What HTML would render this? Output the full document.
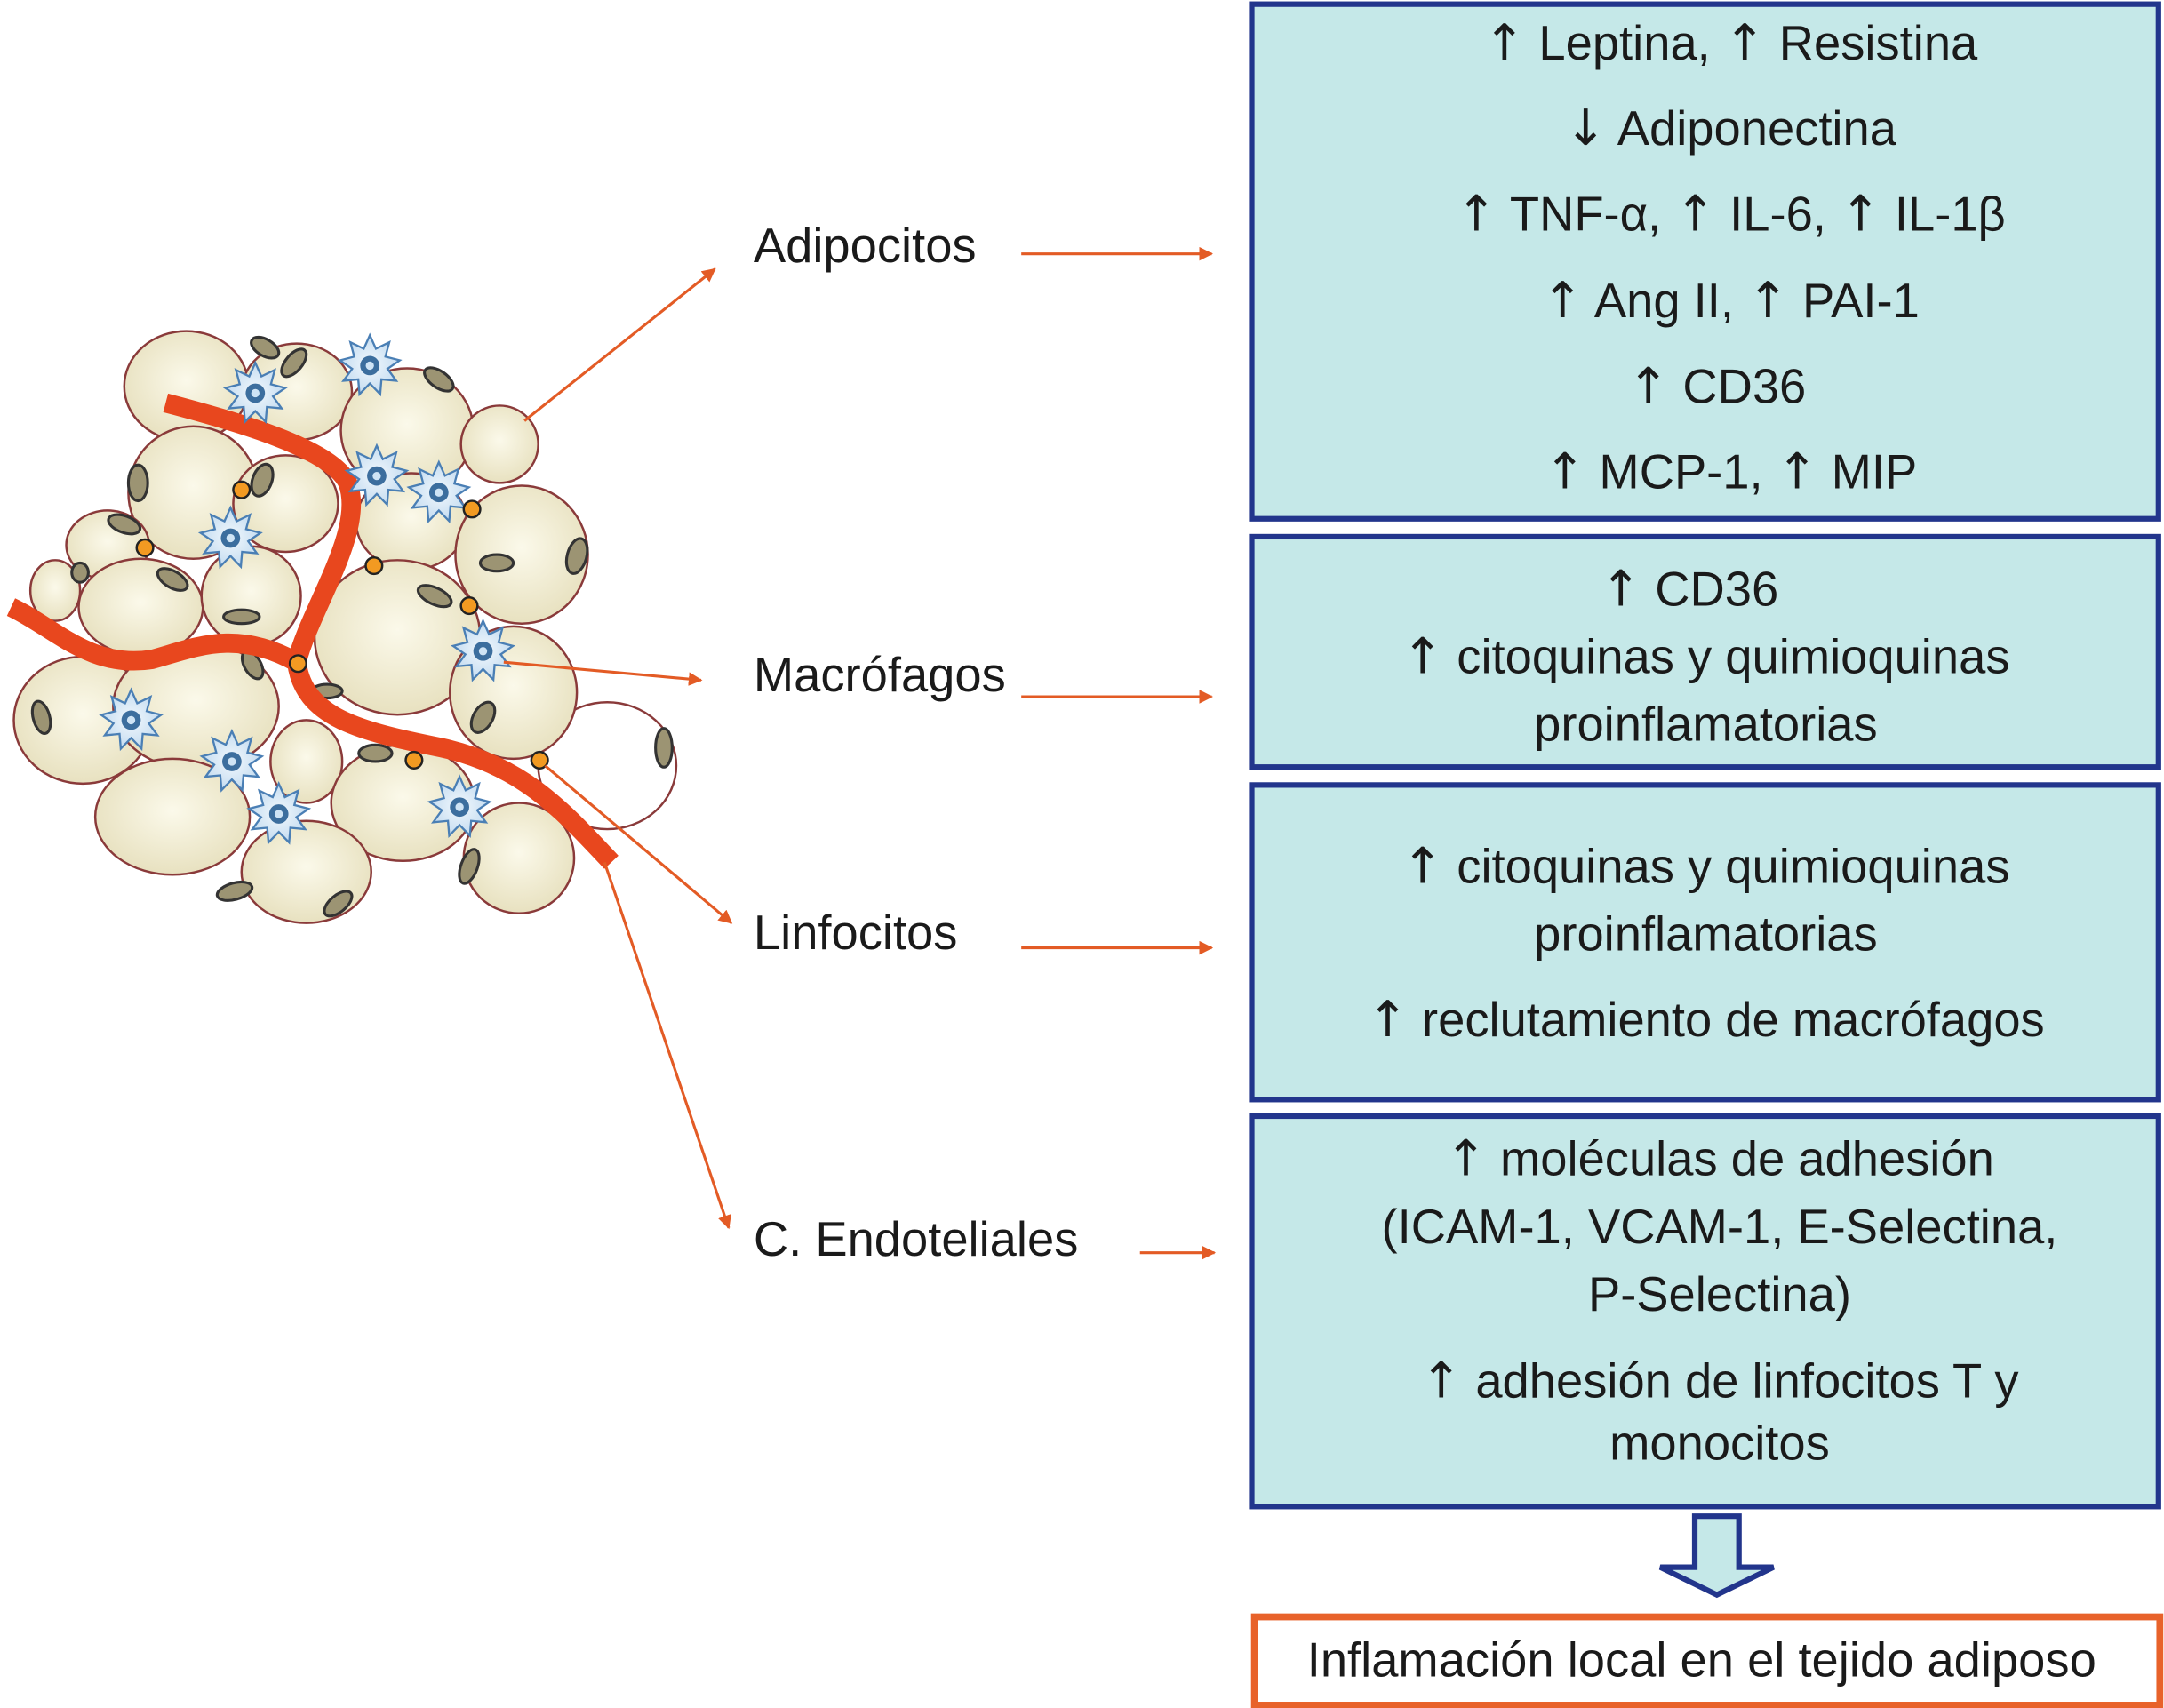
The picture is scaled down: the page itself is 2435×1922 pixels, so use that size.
<!DOCTYPE html>
<html><head><meta charset="utf-8"><style>
html,body{margin:0;padding:0;background:#fff;}
svg{display:block;}
text{font-family:"Liberation Sans",sans-serif;fill:#1a1a1a;}
.a{font-family:"DejaVu Sans",sans-serif;font-size:36px;}
</style></head><body>
<svg width="2435" height="1922" viewBox="0 0 1568 1238" preserveAspectRatio="none" xmlns="http://www.w3.org/2000/svg">
<defs>
<radialGradient id="cg" cx="50%" cy="45%" r="60%"><stop offset="0" stop-color="#fbf9ea"/><stop offset="1" stop-color="#e6dfbc"/></radialGradient>
<radialGradient id="mg" cx="50%" cy="50%" r="60%"><stop offset="0" stop-color="#f2f8fd"/><stop offset="1" stop-color="#bcd7ee"/></radialGradient>
<g id="mac">
<polygon points="0,-22 4.4,-12.2 14.1,-16.9 11.3,-6.5 21.7,-3.8 12.8,2.3 19.1,11 8.4,10 7.5,20.7 0,13 -7.5,20.7 -8.4,10 -19.1,11 -12.8,2.3 -21.7,-3.8 -11.3,-6.5 -14.1,-16.9 -4.4,-12.2" fill="url(#mg)" stroke="#4a7fb5" stroke-width="1.5"/>
<circle r="7" fill="#3c6e9e"/><circle r="3" fill="#cfe4f5"/>
</g>
<marker id="ar" markerWidth="10" markerHeight="10" refX="9" refY="5" orient="auto" markerUnits="userSpaceOnUse"><path d="M0,0 L10,5 L0,10 z" fill="#e35b25"/></marker>
</defs>

<g fill="url(#cg)" stroke="#8a3a3a" stroke-width="1.6">
<ellipse cx="440" cy="555" rx="50" ry="46" fill="#fff"/>
<ellipse cx="135" cy="280" rx="45" ry="40"/>
<ellipse cx="215" cy="284" rx="40" ry="35"/>
<ellipse cx="295" cy="312" rx="48" ry="45"/>
<ellipse cx="362" cy="322" rx="28" ry="28"/>
<ellipse cx="140" cy="357" rx="47" ry="48"/>
<ellipse cx="207" cy="365" rx="38" ry="35"/>
<ellipse cx="298" cy="378" rx="40" ry="35"/>
<ellipse cx="378" cy="402" rx="48" ry="50"/>
<ellipse cx="78" cy="395" rx="30" ry="25"/>
<ellipse cx="40" cy="428" rx="18" ry="22"/>
<ellipse cx="102" cy="440" rx="45" ry="35"/>
<ellipse cx="182" cy="432" rx="36" ry="36"/>
<ellipse cx="288" cy="462" rx="60" ry="56"/>
<ellipse cx="372" cy="502" rx="46" ry="48"/>
<ellipse cx="60" cy="522" rx="50" ry="46"/>
<ellipse cx="142" cy="512" rx="60" ry="46"/>
<ellipse cx="222" cy="552" rx="26" ry="30"/>
<ellipse cx="125" cy="592" rx="56" ry="42"/>
<ellipse cx="292" cy="582" rx="52" ry="42"/>
<ellipse cx="222" cy="632" rx="47" ry="37"/>
<ellipse cx="376" cy="622" rx="40" ry="40"/>
</g>
<g fill="#9c9473" stroke="#333" stroke-width="2">
<ellipse cx="192" cy="252" rx="11" ry="6" transform="rotate(30 192 252)"/>
<ellipse cx="213" cy="263" rx="12" ry="6" transform="rotate(-50 213 263)"/>
<ellipse cx="318" cy="275" rx="12" ry="6" transform="rotate(35 318 275)"/>
<ellipse cx="100" cy="350" rx="7" ry="13"/>
<ellipse cx="190" cy="348" rx="7" ry="12" transform="rotate(20 190 348)"/>
<ellipse cx="90" cy="380" rx="12" ry="6" transform="rotate(20 90 380)"/>
<ellipse cx="58" cy="415" rx="6" ry="7"/>
<ellipse cx="125" cy="420" rx="12" ry="6" transform="rotate(30 125 420)"/>
<ellipse cx="175" cy="447" rx="13" ry="5"/>
<ellipse cx="315" cy="432" rx="13" ry="6" transform="rotate(25 315 432)"/>
<ellipse cx="360" cy="408" rx="12" ry="6"/>
<ellipse cx="418" cy="403" rx="7" ry="13" transform="rotate(15 418 403)"/>
<ellipse cx="183" cy="482" rx="6" ry="11" transform="rotate(-30 183 482)"/>
<ellipse cx="30" cy="520" rx="6" ry="12" transform="rotate(-15 30 520)"/>
<ellipse cx="237" cy="501" rx="11" ry="5"/>
<ellipse cx="350" cy="520" rx="7" ry="12" transform="rotate(30 350 520)"/>
<ellipse cx="272" cy="546" rx="12" ry="6"/>
<ellipse cx="481" cy="542" rx="6" ry="14"/>
<ellipse cx="170" cy="646" rx="13" ry="6" transform="rotate(-15 170 646)"/>
<ellipse cx="245" cy="655" rx="12" ry="6" transform="rotate(-40 245 655)"/>
<ellipse cx="340" cy="628" rx="6" ry="13" transform="rotate(20 340 628)"/>
</g>
<g fill="none" stroke="#e8471e" stroke-width="14">
<path d="M120,292 C170,305 240,325 252,350 C265,385 225,440 215,480"/>
<path d="M8,440 C40,455 65,485 110,478 C140,470 170,455 215,480"/>
<path d="M215,480 C220,520 260,530 320,542 C380,555 410,590 443,625"/>
</g>
<use href="#mac" x="185" y="285"/><use href="#mac" x="268" y="265"/>
<use href="#mac" x="273" y="345"/><use href="#mac" x="318" y="357"/>
<use href="#mac" x="167" y="390"/><use href="#mac" x="350" y="472"/>
<use href="#mac" x="95" y="522"/><use href="#mac" x="168" y="552"/>
<use href="#mac" x="202" y="590"/><use href="#mac" x="333" y="585"/>
<g fill="#f29a22" stroke="#222" stroke-width="1.6">
<circle cx="175" cy="355" r="6"/><circle cx="105" cy="397" r="6"/><circle cx="342" cy="369" r="6"/>
<circle cx="271" cy="410" r="6"/><circle cx="340" cy="439" r="6"/><circle cx="216" cy="481" r="6"/>
<circle cx="300" cy="551" r="6"/><circle cx="391" cy="551" r="6"/>
</g>
<g stroke="#e35b25" stroke-width="2" fill="none" marker-end="url(#ar)">
<line x1="380" y1="305" x2="518" y2="195"/>
<line x1="365" y1="480" x2="508" y2="493"/>
<line x1="395" y1="555" x2="530" y2="669"/>
<line x1="438" y1="625" x2="528" y2="890"/>
<line x1="740" y1="184" x2="878" y2="184"/>
<line x1="740" y1="505" x2="878" y2="505"/>
<line x1="740" y1="687" x2="878" y2="687"/>
<line x1="826" y1="908" x2="880" y2="908"/>
</g>
<g font-size="35">
<text x="546" y="190">Adipocitos</text>
<text x="546" y="501">Macrófagos</text>
<text x="546" y="688">Linfocitos</text>
<text x="546" y="910">C. Endoteliales</text>
</g>
<g fill="#c5e8e8" stroke="#22358c" stroke-width="4">
<rect x="907" y="3" width="657" height="373"/>
<rect x="907" y="389" width="657" height="167"/>
<rect x="907" y="569" width="657" height="228"/>
<rect x="907" y="809" width="657" height="283"/>
</g>
<g font-size="35" text-anchor="middle">
<text x="1254" y="43"><tspan class="a">↑</tspan> Leptina, <tspan class="a">↑</tspan> Resistina</text>
<text x="1254" y="105"><tspan class="a">↓</tspan> Adiponectina</text>
<text x="1254" y="167"><tspan class="a">↑</tspan> TNF-α, <tspan class="a">↑</tspan> IL-6, <tspan class="a">↑</tspan> IL-1β</text>
<text x="1254" y="230"><tspan class="a">↑</tspan> Ang II, <tspan class="a">↑</tspan> PAI-1</text>
<text x="1244" y="292"><tspan class="a">↑</tspan> CD36</text>
<text x="1254" y="354"><tspan class="a">↑</tspan> MCP-1, <tspan class="a">↑</tspan> MIP</text>
<text x="1224" y="439"><tspan class="a">↑</tspan> CD36</text>
<text x="1236" y="488"><tspan class="a">↑</tspan> citoquinas y quimioquinas</text>
<text x="1236" y="537">proinflamatorias</text>
<text x="1236" y="640"><tspan class="a">↑</tspan> citoquinas y quimioquinas</text>
<text x="1236" y="689">proinflamatorias</text>
<text x="1236" y="751"><tspan class="a">↑</tspan> reclutamiento de macrófagos</text>
<text x="1246" y="852"><tspan class="a">↑</tspan> moléculas de adhesión</text>
<text x="1246" y="901">(ICAM-1, VCAM-1, E-Selectina,</text>
<text x="1246" y="950">P-Selectina)</text>
<text x="1246" y="1013"><tspan class="a">↑</tspan> adhesión de linfocitos T y</text>
<text x="1246" y="1058">monocitos</text>
</g>
<polygon points="1228,1099 1260,1099 1260,1136 1285,1136 1244,1156 1203,1136 1228,1136" fill="#c5e8e8" stroke="#22358c" stroke-width="4"/>
<rect x="909" y="1172" width="656" height="64" fill="#fff" stroke="#e8622a" stroke-width="5"/>
<text x="1233" y="1215" font-size="35" text-anchor="middle">Inflamación local en el tejido adiposo</text>
</svg>
</body></html>
